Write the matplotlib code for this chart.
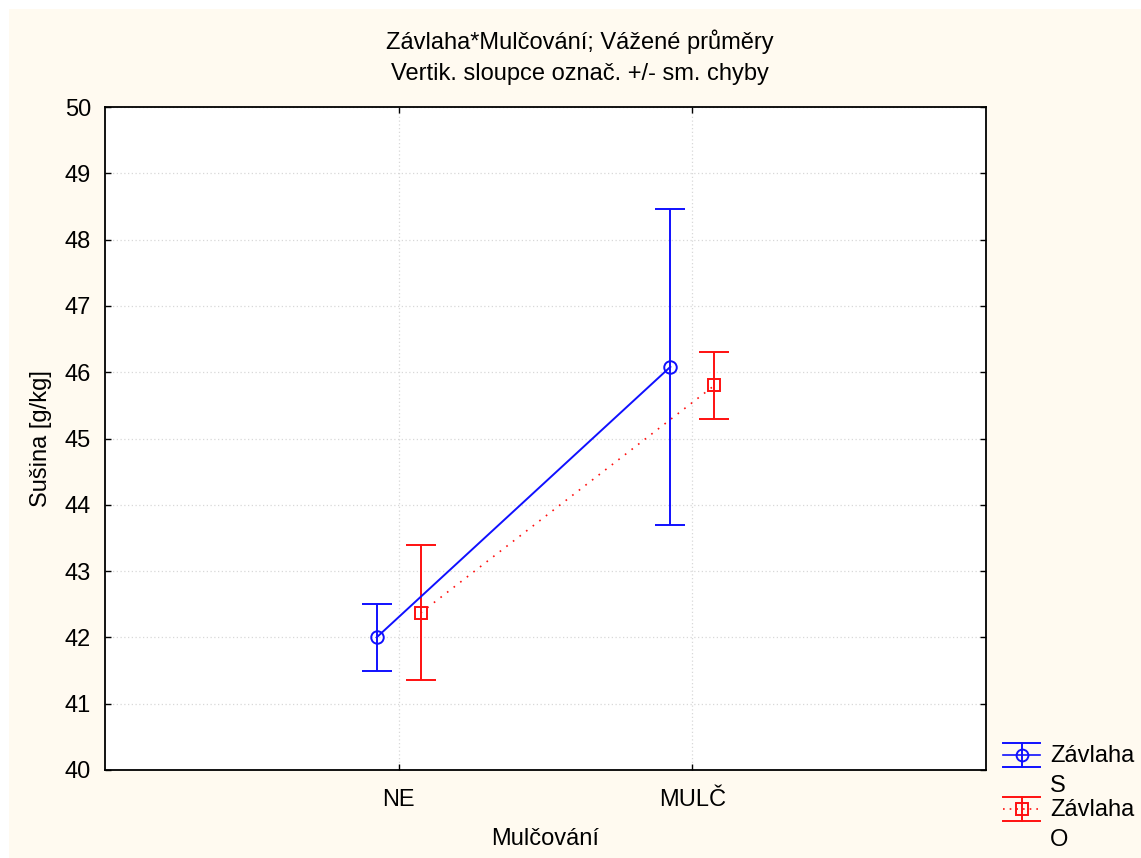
import matplotlib.pyplot as plt
import numpy as np
from matplotlib.patches import Rectangle
from matplotlib.lines import Line2D
from matplotlib.legend_handler import HandlerBase

plt.rcParams['font.family'] = ['Liberation Sans', 'DejaVu Sans']

# Data
categories = ['NE', 'MULČ']
series_names = ['Závlaha\nS', 'Závlaha\nO']
means_s = [42.0, 46.08]
err_s = [0.5, 2.38]
means_o = [42.37, 45.80]
err_o = [1.02, 0.50]

W, H = 1141, 858
FS = 17
fig = plt.figure(figsize=(W / 100, H / 100), dpi=100, facecolor='white')
fig.patches.append(Rectangle((9 / W, 0), 1, (H - 9) / H, transform=fig.transFigure,
                             facecolor='#fffaf0', edgecolor='none', zorder=-10))

ax = fig.add_axes([105 / W, (H - 770) / H, 881 / W, 663 / H])
ax.set_facecolor('white')

x = np.arange(1, len(categories) + 1)
off = 0.075

ax.errorbar(x - off, means_s, yerr=err_s, color='#1010ff', lw=1.4, marker='o',
            ms=9, mfc='none', mec='#1010ff', mew=1.4, capsize=10.5, capthick=1.4,
            ls='-', zorder=3)
ax.errorbar(x + off, means_o, yerr=err_o, color='#ff1010', lw=1.4, marker='s',
            ms=8, mfc='none', mec='#ff1010', mew=1.4, capsize=10.5, capthick=1.4,
            ls='none', zorder=3)
ax.plot(x + off, means_o, color='#ff1010', lw=1.2, ls=(0, (1, 4)), zorder=3)

ax.set_xlim(0, 3)
ax.set_ylim(40, 50)
ax.set_xticks(x)
ax.set_xticklabels(categories)
ax.set_yticks(range(40, 51))
ax.tick_params(direction='in', length=4, width=1, labelsize=FS, top=True, right=True,
               colors='black')
ax.tick_params(axis='x', pad=14)
ax.tick_params(axis='y', pad=10)
for s in ax.spines.values():
    s.set_linewidth(1.3)
ax.grid(True, ls=(0, (1, 2)), color='#d8d8d8', lw=0.9)
ax.set_axisbelow(True)

ax.set_xlabel('Mulčování', fontsize=FS, labelpad=12)
ax.set_ylabel('Sušina [g/kg]', fontsize=FS, labelpad=9)

fig.text(580 / W, 1 - 42 / H, 'Závlaha*Mulčování; Vážené průměry', ha='center',
         va='center', fontsize=FS)
fig.text(580 / W, 1 - 74 / H, 'Vertik. sloupce označ. +/- sm. chyby', ha='center',
         va='center', fontsize=FS)


class ErrHandler(HandlerBase):
    def __init__(self, color, marker, ls):
        super().__init__()
        self.color, self.marker, self.ls = color, marker, ls

    def create_artists(self, legend, orig_handle, xd, yd, width, height, fontsize, trans):
        cy = height / 2 - yd + 0.7 * fontsize
        d = 8.6
        arts = [
            Line2D([0, width], [cy + d, cy + d], color=self.color, lw=1.4),
            Line2D([0, width], [cy - d, cy - d], color=self.color, lw=1.4),
            Line2D([0, width], [cy, cy], color=self.color, lw=1.2, ls=self.ls),
            Line2D([width / 2, width / 2], [cy - d, cy + d], color=self.color, lw=1.4),
            Line2D([width / 2], [cy], color=self.color, marker=self.marker, ms=8.5,
                   mfc='none', mew=1.4),
        ]
        for a in arts:
            a.set_transform(trans)
        return arts


h1 = Line2D([], [], color='blue')
h2 = Line2D([], [], color='red')
leg = fig.legend([h1, h2], series_names, loc='upper left',
                 bbox_to_anchor=(1003 / W, 1 - 745 / H), frameon=False, fontsize=FS,
                 handlelength=1.57, handletextpad=0.42, labelspacing=0.05,
                 borderaxespad=0, borderpad=0,
                 handler_map={h1: ErrHandler('#1010ff', 'o', '-'),
                              h2: ErrHandler('#ff1010', 's', (0, (1, 3)))})
for t in leg.get_texts():
    t.set_linespacing(1.5)

fig.savefig('out.png', dpi=100, facecolor=fig.get_facecolor())
